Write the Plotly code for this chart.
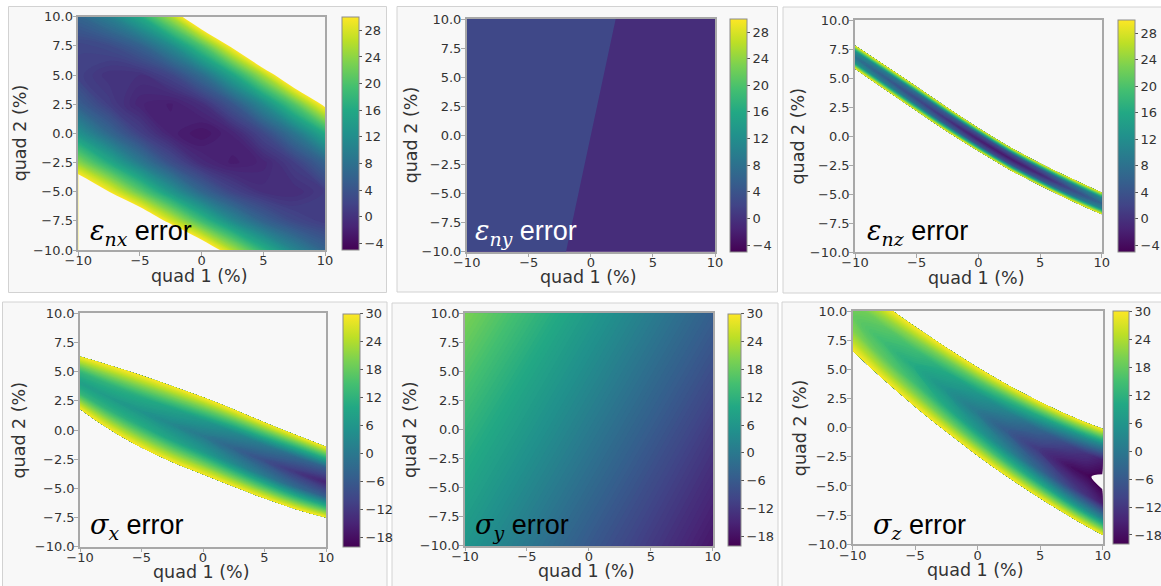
import numpy as np
import plotly.graph_objects as go

W, H = 1161, 586
BG = "rgb(248,248,248)"

# ---------------- data ----------------
quad1_ticks = [-10, -5, 0, 5, 10]
quad2_ticks = [-10, -7.5, -5, -2.5, 0, 2.5, 5, 7.5, 10]
cbar_ticks_eps = [-4, 0, 4, 8, 12, 16, 20, 24, 28]
cbar_ticks_sig = [-18, -12, -6, 0, 6, 12, 18, 24, 30]
labels = ["ε|nx", "ε|ny", "ε|nz", "σ|x", "σ|y", "σ|z"]

# eps_nx error on a regular grid (rows: quad 2 from -12.5 to 12.5; cols: quad 1 from -12.5 to 12.5;
# the outer ring lies just outside the frame)
enx_q1 = [-12.5, -10, -7.5, -5, -2.5, 0, 2.5, 5, 7.5, 10, 12.5]
enx_q2 = [-12.5, -10, -7.5, -5, -2.5, 0, 2.5, 5, 7.5, 10, 12.5]
enx_err = [
    [116.8, 106.8, 96.1, 84.3, 71.5, 58.4, 45.3, 33.6, 24.0, 16.3, 10.4],
    [90.3, 80.3, 69.9, 58.8, 47.4, 36.1, 25.8, 17.3, 10.8, 6.2, 3.5],
    [67.2, 57.7, 47.9, 37.8, 27.9, 18.9, 11.4, 6.0, 2.6, 1.1, 1.5],
    [47.7, 38.9, 30.0, 21.3, 13.3, 6.6, 2.1, -0.2, -0.5, 1.1, 4.6],
    [31.7, 23.9, 16.3, 9.3, 3.4, -0.7, -2.2, -1.3, 1.5, 6.2, 12.8],
    [19.2, 12.7, 6.7, 1.7, -1.7, -3.0, -1.4, 2.6, 8.5, 16.3, 26.0],
    [10.3, 5.4, 1.3, -1.4, -2.1, -0.3, 4.4, 11.5, 20.5, 31.4, 44.2],
    [4.9, 1.8, 0.1, 0.0, 2.3, 7.4, 15.4, 25.5, 37.6, 51.6, 67.4],
    [3.0, 2.1, 3.0, 5.8, 11.5, 20.1, 31.3, 44.6, 59.7, 76.9, 95.7],
    [4.6, 6.3, 10.0, 16.1, 25.4, 37.7, 52.4, 68.7, 86.9, 107.2, 129.0],
    [9.8, 14.2, 21.2, 30.9, 44.1, 60.4, 78.5, 97.8, 119.2, 142.5, 167.4],
]

# eps_ny error (nearly flat)
eny_q1 = [-10, 10]
eny_q2 = [-10, 0, 10]
eny_err = [
    [1.8, -0.2],
    [2.0, 0.0],
    [2.2, 0.2],
]

# banded maps: nodes along quad 1, rows across the band (quad 2 position of each node)
enz_q1 = [-10, -7.5, -5, -2.5, 0, 2.5, 5, 7.5, 10]
enz_across = [-1, -0.8, -0.5, 0, 0.5, 0.8, 1]
enz_q2 = [
    [5.8, 3.97, 2.15, 0.37, -1.3, -2.88, -4.26, -5.55, -6.74],
    [6.0, 4.18, 2.36, 0.58, -1.1, -2.68, -4.07, -5.36, -6.55],
    [6.3, 4.49, 2.68, 0.89, -0.8, -2.39, -3.78, -5.08, -6.27],
    [6.8, 5.0, 3.2, 1.4, -0.3, -1.9, -3.3, -4.6, -5.8],
    [7.3, 5.52, 3.73, 1.92, 0.2, -1.41, -2.82, -4.13, -5.33],
    [7.6, 5.82, 4.04, 2.22, 0.5, -1.12, -2.53, -3.84, -5.05],
    [7.8, 6.03, 4.25, 2.43, 0.7, -0.92, -2.34, -3.65, -4.86],
]
enz_err = [
    [29.9, 29.9, 29.9, 29.9, 29.9, 29.9, 29.9, 29.9, 29.9],
    [23.1, 22.1, 21.3, 20.6, 20.1, 20.1, 20.4, 21.3, 22.6],
    [12.4, 10.1, 8.1, 6.1, 4.4, 4.1, 5.2, 8.1, 11.2],
    [8.1, 5.1, 2.6, 0.1, -2.1, -2.6, -1.1, 2.6, 6.6],
    [12.4, 10.1, 8.1, 6.1, 4.4, 4.1, 5.2, 8.1, 11.2],
    [23.1, 22.1, 21.3, 20.6, 20.1, 20.1, 20.4, 21.3, 22.6],
    [29.9, 29.9, 29.9, 29.9, 29.9, 29.9, 29.9, 29.9, 29.9],
]

sx_q1 = [-10, -7.5, -5, -2.5, 0, 2.5, 5, 7.5, 10]
sx_across = [-1, -0.7, -0.4, 0, 0.4, 0.7, 1]
sx_q2 = [
    [1.8, 0.0, -1.5, -2.75, -3.8, -4.85, -5.85, -6.76, -7.5],
    [2.48, 0.83, -0.58, -1.78, -2.81, -3.86, -4.88, -5.81, -6.59],
    [3.15, 1.65, 0.35, -0.8, -1.82, -2.87, -3.9, -4.85, -5.68],
    [4.05, 2.75, 1.58, 0.5, -0.5, -1.55, -2.6, -3.58, -4.47],
    [4.95, 3.85, 2.81, 1.8, 0.82, -0.23, -1.3, -2.31, -3.26],
    [5.63, 4.68, 3.74, 2.78, 1.81, 0.76, -0.33, -1.35, -2.35],
    [6.3, 5.5, 4.66, 3.75, 2.8, 1.75, 0.65, -0.4, -1.44],
]
sx_err = [
    [29.9, 29.9, 29.9, 29.9, 29.9, 29.9, 29.9, 29.9, 29.9],
    [21.2, 20.8, 20.2, 19.2, 18.1, 16.4, 14.8, 13.2, 12.1],
    [12.8, 12.1, 10.9, 8.9, 6.6, 3.4, 0.4, -2.8, -5.1],
    [8.1, 7.1, 5.6, 3.1, 0.1, -3.9, -7.9, -11.9, -14.9],
    [12.8, 12.1, 10.9, 8.9, 6.6, 3.4, 0.4, -2.8, -5.1],
    [21.2, 20.8, 20.2, 19.2, 18.1, 16.4, 14.8, 13.2, 12.1],
    [29.9, 29.9, 29.9, 29.9, 29.9, 29.9, 29.9, 29.9, 29.9],
]

# sigma_y error (smooth, nearly planar field)
sy_q1 = [-10, 0, 10]
sy_q2 = [-10, 0, 10]
sy_err = [
    [6.0, -6.0, -17.0],
    [12.5, 0.5, -11.5],
    [20.0, 7.0, -5.0],
]

sz_q1 = [-10, -7.5, -5, -2.5, 0, 2.5, 5, 7.5, 8.75, 10]
sz_across = [-1, -0.7, -0.4, 0, 0.4, 0.7, 1]
sz_q2 = [
    [6.6, 4.1, 1.8, -0.35, -2.4, -4.3, -6.05, -7.7, -8.47, -9.2],
    [7.5, 5.07, 2.83, 0.73, -1.27, -3.12, -4.81, -6.4, -7.14, -7.84],
    [8.4, 6.04, 3.86, 1.81, -0.14, -1.93, -3.58, -5.11, -5.81, -6.47],
    [9.6, 7.33, 5.23, 3.25, 1.38, -0.35, -1.93, -3.38, -4.04, -4.65],
    [10.8, 8.62, 6.6, 4.69, 2.89, 1.23, -0.28, -1.65, -2.26, -2.83],
    [11.7, 9.58, 7.62, 5.77, 4.02, 2.42, 0.96, -0.35, -0.93, -1.47],
    [12.6, 10.55, 8.65, 6.85, 5.15, 3.6, 2.2, 0.95, 0.4, -0.1],
]
sz_err = [
    [29.9, 29.9, 29.9, 29.9, 29.9, 29.9, 29.9, 29.9, 29.9, 29.9],
    [24.6, 22.8, 21.1, 18.8, 16.6, 13.6, 10.1, 6.1, 4.6, 3.1],
    [20.4, 17.2, 14.1, 10.1, 6.1, 1.6, -4.1, -10.1, -12.6, -16.1],
    [18.1, 14.1, 10.1, 5.1, 0.1, -6.1, -12.1, -18.1, -19.2, -22.1],
    [20.4, 17.2, 14.1, 10.1, 6.1, 1.6, -4.1, -10.1, -12.6, -16.1],
    [24.6, 22.8, 21.1, 18.8, 16.6, 13.6, 10.1, 6.1, 4.6, 3.1],
    [29.9, 29.9, 29.9, 29.9, 29.9, 29.9, 29.9, 29.9, 29.9, 29.9],
]

# ---------------- styling helpers ----------------
VIR = [(0.0, (68, 1, 84)), (0.1, (72, 36, 117)), (0.2, (65, 68, 135)), (0.3, (53, 95, 141)),
       (0.4, (42, 120, 142)), (0.5, (33, 145, 140)), (0.6, (34, 168, 132)), (0.7, (68, 191, 112)),
       (0.8, (122, 209, 81)), (0.9, (189, 223, 38)), (1.0, (253, 231, 37))]


def vir(t):
    t = min(max(t, 0.0), 1.0)
    for (t0, c0), (t1, c1) in zip(VIR[:-1], VIR[1:]):
        if t <= t1:
            f = (t - t0) / (t1 - t0)
            return "rgb(%d,%d,%d)" % tuple(round(a + (b - a) * f) for a, b in zip(c0, c1))
    return "rgb(253,231,37)"


VIR_SCALE = [[t, "rgb(%d,%d,%d)" % c] for t, c in VIR]


def band_scale(start, end, size, cmin, cmax):
    """colorscale for plotly 'fill' contours: each band gets viridis of its centre value,
    bands outside [cmin, cmax] get the background colour (left blank)."""
    nc = int(np.floor((end - start) / size + 1e-6)) + 1
    stops = []
    for k in range(nc + 1):
        v = start + (k - 0.5) * size
        col = vir((v - cmin) / (cmax - cmin)) if cmin <= v <= cmax else BG
        stops.append([k / nc, col])
    return stops


# plot-area boxes in pixels: left, top, right, bottom; colorbar left & thickness; y-title x
P = [
    dict(l=78.3, t=16.7, r=325.0, b=250.0, cbx=341.7, cbw=16.6, ytx=20.0, lbx=88, lby=232, lc="black"),
    dict(l=466.7, t=19.0, r=715.0, b=251.7, cbx=730.0, cbw=16.7, ytx=411.0, lbx=473, lby=232, lc="white"),
    dict(l=855.0, t=20.0, r=1101.7, b=252.0, cbx=1118.0, cbw=17.0, ytx=797.5, lbx=865, lby=232, lc="black"),
    dict(l=80.0, t=313.3, r=326.0, b=546.7, cbx=342.7, cbw=17.3, ytx=18.5, lbx=88, lby=526, lc="black"),
    dict(l=465.0, t=313.3, r=712.7, b=545.7, cbx=728.3, cbw=12.5, ytx=409.5, lbx=473, lby=526, lc="black"),
    dict(l=852.7, t=311.0, r=1102.7, b=544.3, cbx=1113.0, cbw=16.0, ytx=799.5, lbx=871, lby=526, lc="black"),
]
BOXES = [(8.5, 6.5, 386.5, 292.5), (397.0, 6.5, 777.5, 292.0), (783.0, 7.0, 1162, 293.0),
         (2.5, 302.0, 387.0, 588), (392.0, 303.0, 778.0, 588), (782.0, 302.0, 1162, 588)]

TICKFONT = dict(family="DejaVu Sans", size=13, color="#333333")
LINEC = "#a8a8a8"

fig = go.Figure()

cs_eps = band_scale(-5, 30, 0.5, -5, 30)
cs_sig = band_scale(-20, 30, 0.5, -20, 30)
cs_eny = band_scale(-5, 31, 3, -5, 30)
hidden = dict(showgrid=False, showline=False, showticklabels="none", startline=False,
              endline=False, minorgridcount=0)


def contour(i, q1, q2, z, start, end, size, cs):
    fig.add_trace(go.Contour(
        x=q1, y=q2, z=z, autocontour=False,
        contours=dict(start=start, end=end, size=size, coloring="fill", showlines=False),
        line=dict(width=0), colorscale=cs, showscale=False, hoverinfo="skip",
        xaxis="x%d" % i, yaxis="y%d" % i))


def band(i, q1, q2, across, z, start, end, size, cs):
    cid = "carpet%d" % i
    fig.add_trace(go.Carpet(
        carpet=cid, a=q1, b=across, x=[q1] * len(across), y=q2,
        aaxis=hidden, baxis=hidden, xaxis="x%d" % i, yaxis="y%d" % i))
    fig.add_trace(go.Contourcarpet(
        carpet=cid, a=q1, b=across, z=z, autocontour=False,
        contours=dict(start=start, end=end, size=size, coloring="fill", showlines=False),
        line=dict(width=0), colorscale=cs, showscale=False,
        xaxis="x%d" % i, yaxis="y%d" % i))


contour(1, enx_q1, enx_q2, enx_err, -5, 30, 0.5, cs_eps)
contour(2, eny_q1, eny_q2, eny_err, -5, 31, 3, cs_eny)
band(3, enz_q1, enz_q2, enz_across, enz_err, -5, 30, 0.5, cs_eps)
band(4, sx_q1, sx_q2, sx_across, sx_err, -20, 30, 0.5, cs_sig)
contour(5, sy_q1, sy_q2, sy_err, -20, 30, 0.5, cs_sig)
band(6, sz_q1, sz_q2, sz_across, sz_err, -20, 30, 0.5, cs_sig)

shapes, annotations = [], []
layout = {}
for n, p in enumerate(P, start=1):
    top_row = n <= 3
    cmin, cmax = (-5, 30) if top_row else (-20, 30)
    cticks = cbar_ticks_eps if top_row else cbar_ticks_sig
    # colour bar (through a marker colour scale)
    fig.add_trace(go.Scatter(
        x=[None, None], y=[None, None], mode="markers", showlegend=False, hoverinfo="skip",
        xaxis="x%d" % n, yaxis="y%d" % n,
        marker=dict(color=[cmin, cmax], cmin=cmin, cmax=cmax, colorscale=VIR_SCALE, showscale=True,
                    colorbar=dict(x=p["cbx"] / W, xanchor="left", xpad=0, ypad=0,
                                  y=1 - p["b"] / H, yanchor="bottom",
                                  lenmode="pixels", len=p["b"] - p["t"],
                                  thicknessmode="pixels", thickness=p["cbw"],
                                  outlinewidth=1, outlinecolor="#8c8c8c",
                                  tickvals=cticks, ticks="outside", ticklen=3, tickcolor="#555",
                                  tickfont=TICKFONT))))
    layout["xaxis%d" % n] = dict(domain=[p["l"] / W, p["r"] / W], anchor="y%d" % n, range=[-10, 10],
                                 tickvals=quad1_ticks, ticks="outside", ticklen=4, tickcolor=LINEC,
                                 tickfont=TICKFONT, showline=True, mirror=True, linecolor=LINEC,
                                 linewidth=1.5, showgrid=False, zeroline=False,
                                 ticklabelstandoff=-6)
    layout["yaxis%d" % n] = dict(domain=[1 - p["b"] / H, 1 - p["t"] / H], anchor="x%d" % n,
                                 range=[-10, 10], tickvals=quad2_ticks, tickformat=".1f",
                                 ticks="outside", ticklen=4, tickcolor=LINEC, tickfont=TICKFONT,
                                 showline=True, mirror=True, linecolor=LINEC, linewidth=1.5,
                                 showgrid=False, zeroline=False, ticklabelstandoff=-3)
    x0, y0, x1, y1 = BOXES[n - 1]
    shapes.append(dict(type="rect", xref="paper", yref="paper", x0=x0 / W, x1=x1 / W,
                       y0=1 - y1 / H, y1=1 - y0 / H, fillcolor=BG,
                       line=dict(color="#d2d2d2", width=1), layer="below"))
    annotations.append(dict(text="quad 1 (%)", xref="paper", yref="paper",
                            x=((p["l"] + p["r"]) / 2 - 2) / W, y=1 - (p["b"] + 25.5) / H,
                            xanchor="center", yanchor="middle", showarrow=False,
                            font=dict(family="DejaVu Sans", size=17.5, color="#333333")))
    annotations.append(dict(text="quad 2 (%)", xref="paper", yref="paper", textangle=-90,
                            x=p["ytx"] / W, y=1 - ((p["t"] + p["b"]) / 2) / H,
                            xanchor="center", yanchor="middle", showarrow=False,
                            font=dict(family="DejaVu Sans", size=17.5, color="#333333")))
    sym, sub = labels[n - 1].split("|")
    txt = ('<span style="font-family:DejaVu Serif"><i>%s</i><sub><i>%s</i></sub></span> error'
           % (sym, sub))
    annotations.append(dict(text=txt, xref="paper", yref="paper", x=p["lbx"] / W,
                            y=1 - p["lby"] / H, xanchor="left", yanchor="middle",
                            showarrow=False,
                            font=dict(family="Liberation Sans", size=27, color=p["lc"])))

fig.update_layout(width=W, height=H, margin=dict(l=0, r=0, t=0, b=0, autoexpand=False),
                  autosize=False, paper_bgcolor="white", plot_bgcolor=BG, showlegend=False,
                  shapes=shapes, annotations=annotations, **layout)

fig.write_html("out.html", config={"displayModeBar": False},
               post_script="document.body.style.margin='0';document.body.style.overflow='hidden';")
